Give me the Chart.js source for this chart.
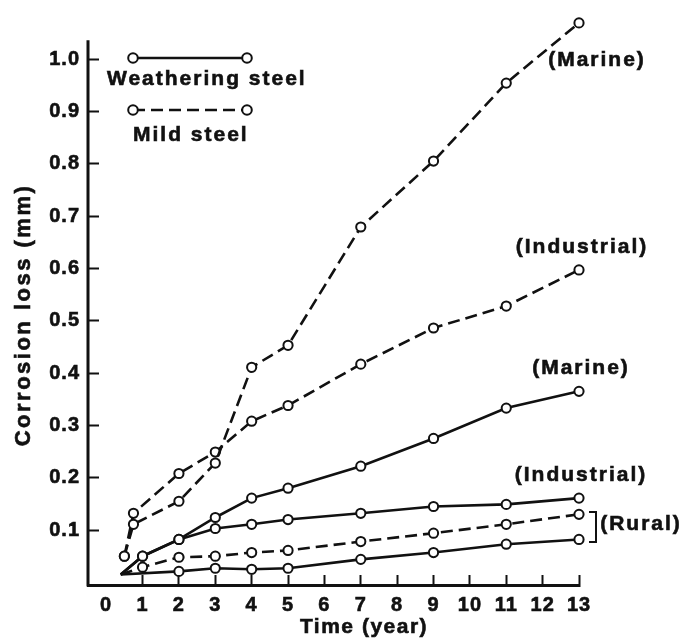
<!DOCTYPE html>
<html>
<head>
<meta charset="utf-8">
<script src="https://cdn.jsdelivr.net/npm/chart.js@4.4.1/dist/chart.umd.min.js"></script>
<style>
  html, body { margin: 0; padding: 0; background: #fff; }
  #wrap { width: 684px; height: 640px; }
</style>
</head>
<body>
<div id="wrap"><canvas id="chart" width="684" height="640"></canvas></div>
<script>
// Time (year) and corrosion loss (mm)
var mildMarineX = [0.5, 0.75, 2, 3, 4, 5, 7, 9, 11, 13];
var mildMarineY = [0.05, 0.111, 0.155, 0.228, 0.411, 0.453, 0.679, 0.805, 0.954, 1.069];

var mildIndustrialX = [0.5, 0.75, 2, 3, 4, 5, 7, 9, 11, 13];
var mildIndustrialY = [0.05, 0.132, 0.208, 0.249, 0.308, 0.338, 0.417, 0.486, 0.528, 0.597];

var mildRuralX = [0.4, 1, 2, 3, 4, 5, 7, 9, 11, 13];
var mildRuralY = [0.015, 0.029, 0.048, 0.05, 0.057, 0.061, 0.078, 0.094, 0.111, 0.13];

var wsMarineX = [0.4, 1, 2, 3, 4, 5, 7, 9, 11, 13];
var wsMarineY = [0.015, 0.05, 0.082, 0.124, 0.161, 0.18, 0.222, 0.275, 0.333, 0.365];

var wsIndustrialX = [0.4, 1, 2, 3, 4, 5, 7, 9, 11, 13];
var wsIndustrialY = [0.015, 0.05, 0.082, 0.103, 0.111, 0.12, 0.132, 0.145, 0.149, 0.161];

var wsRuralX = [0.4, 2, 3, 4, 5, 7, 9, 11, 13];
var wsRuralY = [0.015, 0.021, 0.027, 0.025, 0.027, 0.044, 0.057, 0.073, 0.082];

var xTicks = [0, 1, 2, 3, 4, 5, 6, 7, 8, 9, 10, 11, 12, 13];
var yTicks = [0.1, 0.2, 0.3, 0.4, 0.5, 0.6, 0.7, 0.8, 0.9, 1.0];

var INK = '#111';
var FONT = '"Liberation Sans", Arial, sans-serif';
var DASH = [12, 6];
var Y_AXIS_TOP = 1.036; // where the drawn y axis line stops

// build one dataset; series that start at the common origin get no marker there
function makeSet(label, xs, ys, dashed, fromOrigin) {
    var pts = xs.map(function (x, i) { return { x: x, y: ys[i] }; });
    return {
        label: label,
        data: pts,
        borderColor: INK,
        borderWidth: 2.6,
        borderDash: dashed ? DASH : [],
        pointRadius: pts.map(function (p, i) { return (fromOrigin && i === 0) ? 0 : 4.6; }),
        pointBackgroundColor: '#fff',
        pointBorderColor: INK,
        pointBorderWidth: 2,
        tension: 0,
        clip: false
    };
}

// text labels next to the curves
var notes = [
    { text: '(Marine)', x: 597, y: 60 },
    { text: '(Industrial)', x: 582, y: 247 },
    { text: '(Marine)', x: 581, y: 368 },
    { text: '(Industrial)', x: 581, y: 475 },
    { text: '(Rural)', x: 641, y: 524 }
];

function heavyText(ctx, text, x, y) {
    ctx.fillText(text, x, y);
    ctx.strokeText(text, x, y);
}

var decorations = {
    id: 'decorations',
    beforeDraw: function (chart) {
        // slightly wider spacing for tick labels, like the printed figure
        chart.ctx.letterSpacing = '1px';
    },
    beforeDatasetsDraw: function (chart) {
        // y axis line, stopping a little below the top of the plot
        var ctx = chart.ctx;
        var a = chart.chartArea;
        var yTop = chart.scales.y.getPixelForValue(Y_AXIS_TOP);
        ctx.save();
        ctx.strokeStyle = INK;
        ctx.lineWidth = 3;
        ctx.beginPath();
        ctx.moveTo(a.left, a.bottom + 1.5);
        ctx.lineTo(a.left, yTop);
        ctx.stroke();
        ctx.restore();
    },
    afterDraw: function (chart) {
        var ctx = chart.ctx;
        ctx.save();
        ctx.fillStyle = INK;
        ctx.strokeStyle = INK;
        ctx.font = 'bold 21px ' + FONT;
        ctx.letterSpacing = '2px';
        ctx.textAlign = 'center';
        ctx.textBaseline = 'middle';
        ctx.lineWidth = 0.6;
        notes.forEach(function (n) { heavyText(ctx, n.text, n.x, n.y); });

        // bracket grouping the two rural curves
        ctx.lineWidth = 2;
        ctx.setLineDash([]);
        ctx.beginPath();
        ctx.moveTo(589, 512);
        ctx.lineTo(596, 512);
        ctx.lineTo(596, 542);
        ctx.lineTo(589, 542);
        ctx.stroke();

        // legend
        function legendLine(x1, x2, y, dashed) {
            ctx.lineWidth = 2.6;
            ctx.setLineDash(dashed ? DASH : []);
            ctx.beginPath();
            ctx.moveTo(x1, y);
            ctx.lineTo(x2, y);
            ctx.stroke();
            ctx.setLineDash([]);
            ctx.lineWidth = 2;
            [x1, x2].forEach(function (x) {
                ctx.beginPath();
                ctx.arc(x, y, 4.8, 0, Math.PI * 2);
                ctx.fillStyle = '#fff';
                ctx.fill();
                ctx.stroke();
            });
            ctx.fillStyle = INK;
        }
        legendLine(133, 247, 58, false);
        legendLine(133, 247, 110, true);
        ctx.lineWidth = 0.6;
        ctx.textAlign = 'left';
        heavyText(ctx, 'Weathering steel', 107, 79);
        heavyText(ctx, 'Mild steel', 133, 135);

        // axis titles
        ctx.textAlign = 'center';
        ctx.font = 'bold 21px ' + FONT;
        ctx.letterSpacing = '1.5px';
        heavyText(ctx, 'Time (year)', 364, 627);

        ctx.font = 'bold 22px ' + FONT;
        ctx.letterSpacing = '2.5px';
        ctx.translate(24, 315);
        ctx.rotate(-Math.PI / 2);
        heavyText(ctx, 'Corrosion loss (mm)', 0, 0);
        ctx.restore();
        ctx.letterSpacing = '0px';
    }
};

var tickFont = { family: FONT, size: 20, weight: 'bold' };

new Chart(document.getElementById('chart').getContext('2d'), {
    type: 'line',
    data: {
        datasets: [
            makeSet('Mild steel (Marine)', mildMarineX, mildMarineY, true, false),
            makeSet('Mild steel (Industrial)', mildIndustrialX, mildIndustrialY, true, false),
            makeSet('Mild steel (Rural)', mildRuralX, mildRuralY, true, true),
            makeSet('Weathering steel (Marine)', wsMarineX, wsMarineY, false, true),
            makeSet('Weathering steel (Industrial)', wsIndustrialX, wsIndustrialY, false, true),
            makeSet('Weathering steel (Rural)', wsRuralX, wsRuralY, false, true)
        ]
    },
    options: {
        responsive: false,
        animation: false,
        layout: { padding: { top: 14, right: 105, left: 0, bottom: 0 } },
        plugins: {
            legend: { display: false },
            tooltip: { enabled: false }
        },
        scales: {
            x: {
                type: 'linear',
                min: -0.5,
                max: 13,
                afterBuildTicks: function (scale) {
                    scale.ticks = xTicks.map(function (v) { return { value: v }; });
                },
                afterFit: function (scale) {
                    scale.height = 55;
                    scale.paddingLeft = 0;
                    scale.paddingRight = 0;
                },
                border: { display: true, color: INK, width: 3 },
                grid: {
                    drawOnChartArea: false,
                    drawTicks: true,
                    tickLength: -10,
                    tickWidth: 2,
                    tickColor: function (c) { return c.tick && c.tick.value === 0 ? 'rgba(0,0,0,0)' : INK; }
                },
                ticks: {
                    color: INK,
                    padding: 18,
                    maxRotation: 0,
                    autoSkip: false,
                    font: tickFont,
                    textStrokeColor: INK,
                    textStrokeWidth: 0.6,
                    callback: function (v) { return String(v); }
                }
            },
            y: {
                type: 'linear',
                min: -0.005,
                max: 1.086,
                afterBuildTicks: function (scale) {
                    scale.ticks = yTicks.map(function (v) { return { value: v }; });
                },
                afterFit: function (scale) {
                    scale.width = 88;
                    scale.paddingTop = 0;
                    scale.paddingBottom = 0;
                },
                border: { display: false },
                grid: {
                    drawOnChartArea: false,
                    drawTicks: true,
                    tickLength: -11,
                    tickWidth: 2,
                    tickColor: INK
                },
                ticks: {
                    color: INK,
                    padding: 19,
                    autoSkip: false,
                    font: tickFont,
                    textStrokeColor: INK,
                    textStrokeWidth: 0.6,
                    callback: function (v) { return Number(v).toFixed(1); }
                }
            }
        }
    },
    plugins: [decorations]
});
</script>
</body>
</html>
